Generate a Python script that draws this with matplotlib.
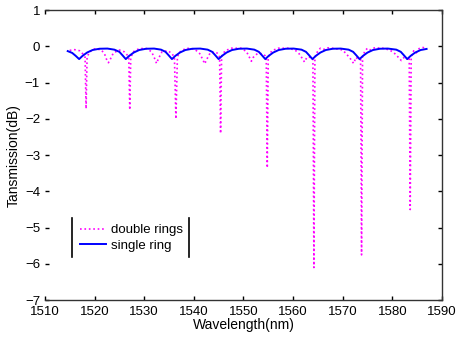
import matplotlib
matplotlib.use("Agg")
import matplotlib.pyplot as plt
from matplotlib.lines import Line2D

# double rings (magenta, dotted)
wl_double = [1515.0, 1516.0, 1517.0, 1517.6, 1518.1, 1518.3, 1518.5, 1519.0, 1520.0, 1521.3,
             1522.0, 1522.4, 1522.8, 1523.2, 1523.8, 1525.0, 1526.0, 1526.6, 1526.9, 1527.1,
             1527.3, 1527.9, 1529.0, 1530.5, 1531.5, 1532.1, 1532.5, 1532.9, 1533.6, 1534.8,
             1535.6, 1536.1, 1536.4, 1536.7, 1537.4, 1538.6, 1540.2, 1541.2, 1541.8, 1542.2,
             1542.6, 1543.3, 1544.4, 1545.0, 1545.2, 1545.4, 1545.6, 1546.3, 1547.6, 1549.5,
             1550.6, 1551.2, 1551.6, 1552.0, 1552.8, 1553.8, 1554.4, 1554.6, 1554.8, 1555.0,
             1555.7, 1557.0, 1559.0, 1560.4, 1561.2, 1561.8, 1562.3, 1562.8, 1563.5, 1564.0,
             1564.2, 1564.4, 1564.9, 1565.5, 1566.2, 1567.0, 1568.5, 1570.0, 1571.0, 1571.6,
             1572.2, 1572.7, 1573.2, 1573.6, 1573.8, 1574.0, 1574.5, 1575.0, 1575.6, 1576.4,
             1578.0, 1579.5, 1580.5, 1581.2, 1581.8, 1582.4, 1583.0, 1583.4, 1583.6, 1583.8,
             1584.3, 1584.8, 1585.4, 1586.2, 1586.6]
tr_double = [-0.11, -0.09, -0.12, -0.20, -0.30, -1.72, -0.30, -0.15, -0.07, -0.09,
             -0.20, -0.35, -0.45, -0.35, -0.18, -0.10, -0.15, -0.24, -0.32, -1.75,
             -0.30, -0.14, -0.06, -0.06, -0.15, -0.33, -0.47, -0.33, -0.15, -0.12,
             -0.20, -0.30, -2.00, -0.28, -0.12, -0.05, -0.08, -0.20, -0.36, -0.48,
             -0.36, -0.18, -0.15, -0.22, -0.30, -2.40, -0.28, -0.12, -0.05, -0.05,
             -0.14, -0.30, -0.41, -0.30, -0.20, -0.20, -0.26, -0.32, -3.35, -0.30,
             -0.12, -0.05, -0.05, -0.10, -0.20, -0.32, -0.43, -0.30, -0.30, -0.34,
             -6.10, -0.30, -0.15, -0.05, -0.08, -0.04, -0.06, -0.10, -0.25, -0.35,
             -0.47, -0.30, -0.38, -0.30, -5.75, -0.28, -0.12, -0.05, -0.10, -0.04,
             -0.05, -0.10, -0.20, -0.30, -0.39, -0.30, -0.35, -0.30, -4.50, -0.28,
             -0.12, -0.18, -0.06, -0.03, -0.05]

# single ring (blue, solid)
wl_single = [1514.6, 1515.5, 1516.2, 1516.9, 1517.6, 1518.5, 1519.6, 1521.0, 1522.6,
             1524.0, 1525.0, 1525.6, 1526.3, 1527.0, 1527.9, 1529.0, 1530.4, 1532.0,
             1533.4, 1534.3, 1534.9, 1535.6, 1536.3, 1537.2, 1538.3, 1539.7, 1541.3,
             1542.8, 1543.7, 1544.3, 1545.0, 1545.7, 1546.6, 1547.7, 1549.1, 1550.7,
             1552.2, 1553.1, 1553.7, 1554.4, 1555.1, 1556.0, 1557.1, 1558.5, 1560.1,
             1561.7, 1562.6, 1563.2, 1563.9, 1564.6, 1565.5, 1566.6, 1568.0, 1569.6,
             1571.2, 1572.1, 1572.7, 1573.4, 1574.1, 1575.0, 1576.1, 1577.5, 1579.1,
             1580.8, 1581.7, 1582.3, 1583.0, 1583.7, 1584.6, 1585.7, 1586.9]
tr_single = [-0.13, -0.18, -0.26, -0.35, -0.26, -0.17, -0.10, -0.065, -0.06,
             -0.09, -0.15, -0.24, -0.35, -0.26, -0.17, -0.10, -0.065, -0.06,
             -0.09, -0.15, -0.24, -0.35, -0.26, -0.17, -0.10, -0.065, -0.06,
             -0.09, -0.15, -0.24, -0.35, -0.26, -0.17, -0.10, -0.065, -0.06,
             -0.09, -0.15, -0.24, -0.35, -0.26, -0.17, -0.10, -0.065, -0.06,
             -0.09, -0.15, -0.24, -0.35, -0.26, -0.17, -0.10, -0.065, -0.06,
             -0.09, -0.15, -0.24, -0.35, -0.26, -0.17, -0.10, -0.065, -0.06,
             -0.09, -0.15, -0.24, -0.35, -0.26, -0.17, -0.10, -0.07]

xticks = [1510, 1520, 1530, 1540, 1550, 1560, 1570, 1580, 1590]
yticks = [1, 0, -1, -2, -3, -4, -5, -6, -7]

plt.rcParams['font.family'] = ['Liberation Sans', 'DejaVu Sans']

fig = plt.figure(figsize=(4.58, 3.38), dpi=100)
ax = fig.add_axes([0.098, 0.112, 0.867, 0.858])

ax.plot(wl_double, tr_double, ':', color='#ff00ff', lw=1.2, label='double rings')
ax.plot(wl_single, tr_single, '-', color='#0000ff', lw=1.4, label='single ring')

ax.set_xlim(1510, 1590)
ax.set_ylim(-7, 1)
ax.set_xticks(xticks)
ax.set_yticks(yticks)
ax.tick_params(direction='in', length=3, labelsize=9.5, top=True, right=True, width=1)
ax.tick_params(axis='x', pad=4.5)
ax.spines['left'].set_visible(False)
for s in ['top', 'right', 'bottom']:
    ax.spines[s].set_color('#333333')
    ax.spines[s].set_linewidth(1.0)

ax.set_xlabel('Wavelength(nm)', fontsize=10, labelpad=0)
ax.set_ylabel('Tansmission(dB)', fontsize=10, labelpad=3)

leg = ax.legend(loc='lower left', bbox_to_anchor=(0.075, 0.148, 0.29, 0.135),
                frameon=False, fontsize=9.5, handlelength=2.0, handletextpad=0.35,
                borderaxespad=0, labelspacing=0.25)
# legend box only shows its side edges
for xa in (0.068, 0.363):
    ax.add_line(Line2D([xa, xa], [0.148, 0.283], transform=ax.transAxes,
                       color='black', lw=1.2))

fig.savefig('out.png', dpi=100)
